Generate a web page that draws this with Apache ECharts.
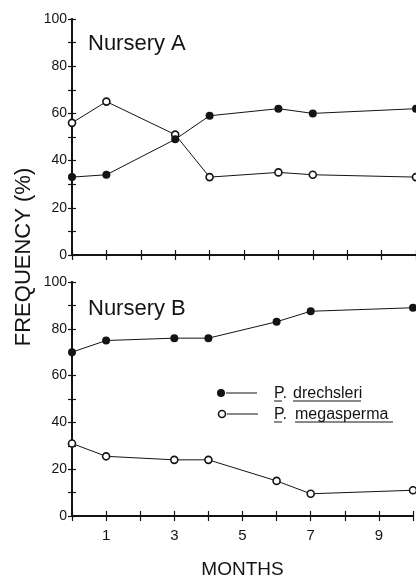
<!DOCTYPE html>
<html>
<head>
<meta charset="utf-8">
<script src="https://cdn.jsdelivr.net/npm/echarts@6/dist/echarts.min.js"></script>
<style>
html,body{margin:0;padding:0;background:#fff;}
#chart{width:416px;height:581px;}
</style>
</head>
<body>
<div id="chart"></div>
<script>
// ---- data ----
const months = [0, 1, 3, 4, 6, 7, 10];
const drechsleriA = [33, 34, 49, 59, 62, 60, 62];
const megaspermaA = [56, 65, 51, 33, 35, 34, 33];
const drechsleriB = [70, 75, 76, 76, 83, 87.5, 89];
const megaspermaB = [31, 25.5, 24, 24, 15, 9.5, 11];
const xTickLabels = ['1', '3', '5', '7', '9'];
const yTickLabels = ['0', '20', '40', '60', '80', '100'];
const panelNames = ['Nursery A', 'Nursery B'];
const seriesNames = ['P. drechsleri', 'P. megasperma'];

const FONT = 'Liberation Sans, Arial, Helvetica, sans-serif';
const INK = '#141414';

function pairs(xs, ys) { return xs.map((x, i) => [x, ys[i]]); }

const grids = [
  { left: 72, right: -1, top: 19, height: 236 },
  { left: 72, right: -1, top: 282, height: 234 }
];

const xAxes = [], yAxes = [];
grids.forEach((g, gi) => {
  const isBottom = gi === 1;
  xAxes.push({
    type: 'value', gridIndex: gi, position: 'bottom', min: 0, max: 10, interval: 1,
    axisLine: { show: true, lineStyle: { color: INK, width: 2 } },
    axisTick: { show: true, inside: true, length: 5, lineStyle: { color: INK, width: 1.2 } },
    axisLabel: {
      show: isBottom, margin: 12, fontSize: 15, color: INK, fontFamily: FONT,
      formatter: v => xTickLabels.indexOf(String(v)) >= 0 ? String(v) : ''
    },
    splitLine: { show: false },
    name: isBottom ? 'MONTHS' : '',
    nameLocation: 'middle', nameGap: 44,
    nameTextStyle: { fontSize: 19, color: INK, fontFamily: FONT }
  });
  xAxes.push({
    type: 'value', gridIndex: gi, position: 'top', min: 0, max: 10, interval: 1,
    axisLine: { show: true, lineStyle: { color: INK, width: 2 } },
    axisTick: { show: true, inside: true, length: 5, lineStyle: { color: INK, width: 1.2 } },
    axisLabel: { show: false },
    splitLine: { show: false }
  });
  yAxes.push({
    type: 'value', gridIndex: gi, position: 'left', min: 0, max: 100, interval: 10,
    axisLine: { show: true, lineStyle: { color: INK, width: 2 } },
    axisTick: { show: true, inside: true, length: 4, lineStyle: { color: INK, width: 1.2 } },
    axisLabel: {
      show: true, margin: 5, fontSize: 14, color: INK, fontFamily: FONT,
      formatter: v => yTickLabels.indexOf(String(v)) >= 0 ? String(v) : ''
    },
    splitLine: { show: false }
  });
  yAxes.push({
    type: 'value', gridIndex: gi, position: 'right', min: 0, max: 100, interval: 10,
    axisLine: { show: true, lineStyle: { color: INK, width: 2 } },
    axisTick: { show: true, inside: true, length: 4, lineStyle: { color: INK, width: 1.2 } },
    axisLabel: { show: false },
    splitLine: { show: false }
  });
});

function lineSeries(name, data, gi, filled) {
  return {
    name: name, type: 'line', xAxisIndex: gi * 2, yAxisIndex: gi * 2,
    data: data, symbol: 'circle', symbolSize: filled ? 8 : 7,
    lineStyle: { color: INK, width: 1 },
    itemStyle: filled ? { color: INK } : { color: '#fff', borderColor: INK, borderWidth: 1.6 },
    clip: false, silent: true, animation: false, z: filled ? 3 : 2
  };
}

const series = [
  lineSeries(seriesNames[0], pairs(months, drechsleriA), 0, true),
  lineSeries(seriesNames[1], pairs(months, megaspermaA), 0, false),
  lineSeries(seriesNames[0], pairs(months, drechsleriB), 1, true),
  lineSeries(seriesNames[1], pairs(months, megaspermaB), 1, false)
];

const textStyle = (txt, size) => ({ text: txt, font: size + 'px ' + FONT, fill: INK });

const graphic = [
  { type: 'text', left: 88, top: 33, style: textStyle(panelNames[0], 22) },
  { type: 'text', left: 88, top: 298, style: textStyle(panelNames[1], 22) },
  { type: 'text', x: 24, y: 257, rotation: Math.PI / 2,
    style: Object.assign(textStyle('FREQUENCY (%)', 22), { align: 'center', verticalAlign: 'middle' }) },
  // legend
  { type: 'circle', shape: { cx: 221, cy: 393, r: 4 }, style: { fill: INK } },
  { type: 'line', shape: { x1: 226, y1: 393, x2: 257, y2: 393 }, style: { stroke: INK, lineWidth: 1 } },
  { type: 'text', x: 274, y: 394, style: Object.assign(textStyle('P.', 16), { verticalAlign: 'middle' }) },
  { type: 'text', x: 293, y: 394, style: Object.assign(textStyle('drechsleri', 16), { verticalAlign: 'middle' }) },
  { type: 'line', shape: { x1: 274, y1: 401, x2: 282, y2: 401 }, style: { stroke: INK, lineWidth: 1 } },
  { type: 'line', shape: { x1: 293, y1: 401, x2: 361, y2: 401 }, style: { stroke: INK, lineWidth: 1 } },
  { type: 'circle', shape: { cx: 222, cy: 414, r: 3.5 }, style: { fill: '#fff', stroke: INK, lineWidth: 1.6 } },
  { type: 'line', shape: { x1: 227, y1: 414, x2: 258, y2: 414 }, style: { stroke: INK, lineWidth: 1 } },
  { type: 'text', x: 274, y: 415, style: Object.assign(textStyle('P.', 16), { verticalAlign: 'middle' }) },
  { type: 'text', x: 295, y: 415, style: Object.assign(textStyle('megasperma', 16), { verticalAlign: 'middle' }) },
  { type: 'line', shape: { x1: 274, y1: 422, x2: 282, y2: 422 }, style: { stroke: INK, lineWidth: 1 } },
  { type: 'line', shape: { x1: 295, y1: 422, x2: 393, y2: 422 }, style: { stroke: INK, lineWidth: 1 } }
];

const chart = echarts.init(document.getElementById('chart'), null, { renderer: 'canvas' });
chart.setOption({
  backgroundColor: '#fff',
  animation: false,
  grid: grids,
  xAxis: xAxes,
  yAxis: yAxes,
  series: series,
  graphic: graphic
});
</script>
</body>
</html>
